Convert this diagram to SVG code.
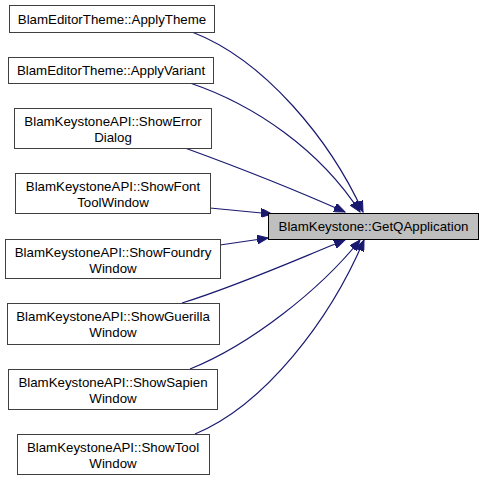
<svg xmlns="http://www.w3.org/2000/svg" width="484" height="481" viewBox="0 0 484 481">
<style>
.n rect{fill:#ffffff;stroke:#404040;stroke-width:1}
.t rect{fill:#bfbfbf;stroke:#000000;stroke-width:1}
text{font-family:"Liberation Sans",Arial,sans-serif;font-size:13.3px;fill:#000;text-anchor:middle}
.e path{fill:none;stroke:#191970;stroke-width:1.2;marker-end:url(#ah)}
</style>
<defs>
<marker id="ah" markerUnits="userSpaceOnUse" markerWidth="12" markerHeight="9" refX="11" refY="4.5" orient="auto">
<path d="M0,0 L11,4.5 L0,9 z" fill="#191970" stroke="#191970" stroke-width="1"/>
</marker>
</defs>
<rect width="484" height="481" fill="#ffffff"/>
<g id="edges" class="e">
<path d="M192,32 C265,60 330,140 363,212"/>
<path d="M190,83 C255,105 320,150 360,212"/>
<path d="M185,148 C240,168 300,192 345,212"/>
<path d="M210,208 L272,214"/>
<path d="M220,245 L268,238"/>
<path d="M182,303 C240,285 300,258 345,240"/>
<path d="M190,369 C250,345 320,290 360,240"/>
<path d="M195,434 C265,405 330,320 364,240"/>
</g>
<g id="target" class="t">
<rect x="268.5" y="213.5" width="210" height="26"/>
<text x="373.5" y="231">BlamKeystone::GetQApplication</text>
</g>
<g id="n1" class="n">
<rect x="9.5" y="5.5" width="205" height="27"/>
<text x="112" y="23.5">BlamEditorTheme::ApplyTheme</text>
</g>
<g id="n2" class="n">
<rect x="8.5" y="57.5" width="205" height="26"/>
<text x="111" y="75">BlamEditorTheme::ApplyVariant</text>
</g>
<g id="n3" class="n">
<rect x="14.5" y="108.5" width="197" height="40"/>
<text x="113" y="126">BlamKeystoneAPI::ShowError</text>
<text x="113" y="142">Dialog</text>
</g>
<g id="n4" class="n">
<rect x="15.5" y="173.5" width="195" height="40"/>
<text x="113" y="191">BlamKeystoneAPI::ShowFont</text>
<text x="113" y="207">ToolWindow</text>
</g>
<g id="n5" class="n">
<rect x="5.5" y="239.5" width="215" height="39"/>
<text x="113" y="257">BlamKeystoneAPI::ShowFoundry</text>
<text x="113" y="273">Window</text>
</g>
<g id="n6" class="n">
<rect x="7.5" y="303.5" width="212" height="41"/>
<text x="113" y="321">BlamKeystoneAPI::ShowGuerilla</text>
<text x="113" y="337">Window</text>
</g>
<g id="n7" class="n">
<rect x="8.5" y="369.5" width="209" height="40"/>
<text x="113" y="387">BlamKeystoneAPI::ShowSapien</text>
<text x="113" y="403">Window</text>
</g>
<g id="n8" class="n">
<rect x="17.5" y="434.5" width="192" height="40"/>
<text x="113" y="452">BlamKeystoneAPI::ShowTool</text>
<text x="113" y="468">Window</text>
</g>
</svg>
